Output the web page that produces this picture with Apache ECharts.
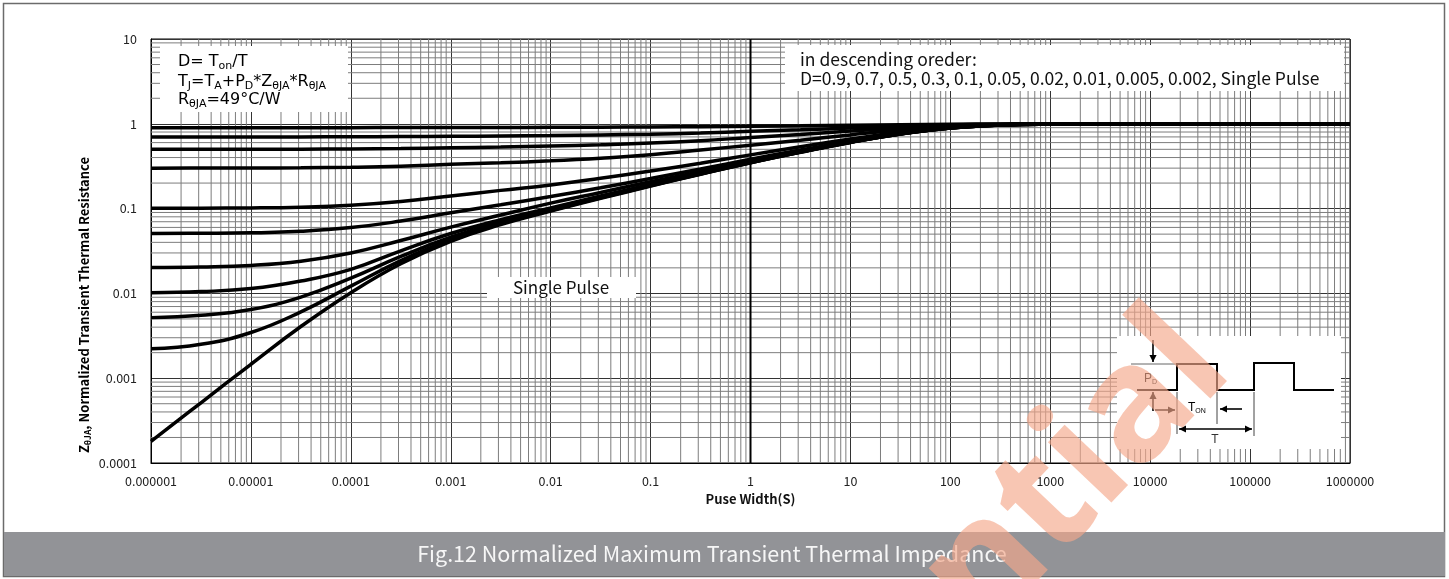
<!DOCTYPE html>
<html>
<head>
<meta charset="utf-8">
<title>Fig.12 Normalized Maximum Transient Thermal Impedance</title>
<script src="https://cdn.jsdelivr.net/npm/echarts@6/dist/echarts.min.js"></script>
<style>
  html, body { margin: 0; padding: 0; background: #ffffff; }
  #chart { width: 1449px; height: 579px; }
</style>
</head>
<body>
<div id="chart"></div>
<script>
// Pulse widths (s), half-decade steps, at which each curve is sampled
const pulseWidths = [1e-6, 3.162e-6, 1e-5, 3.162e-5, 1e-4, 3.162e-4, 1e-3, 3.162e-3, 0.01, 0.03162,
                     0.1, 0.3162, 1, 3.162, 10, 31.62, 100, 316.2, 1000, 3162, 10000, 1e5, 1e6];

// Normalized transient thermal resistance, one array per duty cycle
const zD090 = [0.900, 0.900, 0.9001, 0.9003, 0.901, 0.9025, 0.904, 0.906, 0.909, 0.913, 0.918, 0.925,
               0.935, 0.946, 0.960, 0.976, 0.989, 0.997, 0.999, 1, 1, 1, 1];
const zD070 = [0.700, 0.7001, 0.7003, 0.701, 0.703, 0.707, 0.712, 0.719, 0.728, 0.740, 0.755, 0.778,
               0.815, 0.850, 0.890, 0.933, 0.970, 0.990, 0.998, 1, 1, 1, 1];
const zD050 = [0.500, 0.5001, 0.5007, 0.502, 0.505, 0.511, 0.521, 0.532, 0.547, 0.566, 0.592, 0.632,
               0.690, 0.750, 0.820, 0.890, 0.950, 0.983, 0.996, 0.9995, 1, 1, 1];
const zD030 = [0.300, 0.3004, 0.301, 0.3028, 0.307, 0.316, 0.333, 0.347, 0.366, 0.393, 0.431, 0.490,
               0.560, 0.640, 0.740, 0.845, 0.930, 0.976, 0.995, 0.9993, 1, 1, 1];
const zD010 = [0.1010, 0.1012, 0.1018, 0.1040, 0.1095, 0.121, 0.141, 0.164, 0.190, 0.228, 0.277, 0.343,
               0.430, 0.535, 0.660, 0.795, 0.905, 0.969, 0.994, 0.999, 1, 1, 1];
const zD005 = [0.0510, 0.0512, 0.0518, 0.0540, 0.0597, 0.0713, 0.0891, 0.111, 0.139, 0.176, 0.226, 0.293,
               0.382, 0.490, 0.624, 0.772, 0.896, 0.968, 0.993, 0.999, 1, 1, 1];
const zD002 = [0.0202, 0.0205, 0.0214, 0.0240, 0.0300, 0.0420, 0.0604, 0.0840, 0.116, 0.155, 0.207, 0.272,
               0.362, 0.474, 0.612, 0.764, 0.893, 0.967, 0.993, 0.999, 1, 1, 1];
const zD001 = [0.0102, 0.0105, 0.0114, 0.0140, 0.0192, 0.0318, 0.0508, 0.0740, 0.102, 0.141, 0.192, 0.261,
               0.354, 0.467, 0.607, 0.761, 0.892, 0.966, 0.993, 0.999, 1, 1, 1];
const zD0005 = [0.00518, 0.00551, 0.00645, 0.00905, 0.0151, 0.0273, 0.0460, 0.0693, 0.0978, 0.136, 0.188, 0.258,
                0.350, 0.465, 0.605, 0.760, 0.892, 0.966, 0.993, 0.999, 1, 1, 1];
const zD0002 = [0.00222, 0.00251, 0.00346, 0.00606, 0.0122, 0.0244, 0.0431, 0.0665, 0.0951, 0.134, 0.186, 0.255,
                0.348, 0.463, 0.604, 0.760, 0.891, 0.966, 0.993, 0.999, 1, 1, 1];
const zSingle = [0.00018, 0.000513, 0.00146, 0.00407, 0.0102, 0.0224, 0.0412, 0.0646, 0.0933, 0.132, 0.184, 0.254,
                 0.347, 0.462, 0.603, 0.759, 0.891, 0.966, 0.993, 0.999, 1, 1, 1];

const curveNames = ['D=0.9', 'D=0.7', 'D=0.5', 'D=0.3', 'D=0.1', 'D=0.05', 'D=0.02', 'D=0.01',
                    'D=0.005', 'D=0.002', 'Single Pulse'];
const curveValues = [zD090, zD070, zD050, zD030, zD010, zD005, zD002, zD001, zD0005, zD0002, zSingle];

// Axis tick labels
const xTickLabels = ['0.000001', '0.00001', '0.0001', '0.001', '0.01', '0.1', '1', '10', '100',
                     '1000', '10000', '100000', '1000000'];
const yTickLabels = ['0.0001', '0.001', '0.01', '0.1', '1', '10'];

const chart = echarts.init(document.getElementById('chart'), null, { renderer: 'canvas' });

const LABEL_FONT = '"Noto Sans CJK SC", "Noto Sans", sans-serif';
const X_MIN = 1e-6, X_MAX = 1e6, Y_MIN = 1e-4, Y_MAX = 10;

// Minor log grid lines (2..9 inside every decade), drawn as broken polylines
const minorGridX = [];
for (let e = -6; e < 6; e++) {
  for (let m = 2; m <= 9; m++) {
    const v = m * Math.pow(10, e);
    minorGridX.push([v, Y_MIN], [v, Y_MAX], [v, '-']);
  }
}
const minorGridY = [];
for (let e = -4; e < 1; e++) {
  for (let m = 2; m <= 9; m++) {
    const v = m * Math.pow(10, e);
    minorGridY.push([X_MIN, v], [X_MAX, v], ['-', v]);
  }
}

function gridSeries(name, data, color, width, z) {
  return {
    name: name, type: 'line', z: z, data: data,
    showSymbol: false, symbol: 'none', connectNulls: false, smooth: false,
    lineStyle: { color: color, width: width }, silent: true,
    emphasis: { disabled: true }
  };
}

const curveSeries = curveNames.map((name, i) => ({
  name: name,
  type: 'line',
  z: 5,
  data: pulseWidths.map((t, k) => [t, curveValues[i][k]]),
  showSymbol: false,
  symbol: 'none',
  smooth: 0.45,
  lineStyle: { color: '#000000', width: 3.5 },
  emphasis: { disabled: true },
  silent: true
}));

// Inset: duty-cycle waveform sketch
function arrow(x1, y1, x2, y2, headEnd, headStart) {
  const els = [{
    type: 'line', z: 120,
    shape: { x1: x1, y1: y1, x2: x2, y2: y2 },
    style: { stroke: '#000', lineWidth: 1.6 }
  }];
  const ang = Math.atan2(y2 - y1, x2 - x1);
  const L = 7, W = 3.6;
  function head(px, py, a) {
    const bx = px - L * Math.cos(a), by = py - L * Math.sin(a);
    return {
      type: 'polygon', z: 121,
      shape: { points: [[px, py],
        [bx + W * Math.sin(a), by - W * Math.cos(a)],
        [bx - W * Math.sin(a), by + W * Math.cos(a)]] },
      style: { fill: '#000' }
    };
  }
  if (headEnd) els.push(head(x2, y2, ang));
  if (headStart) els.push(head(x1, y1, ang + Math.PI));
  return els;
}

const subRich = {
  n: { fontSize: 16, fontFamily: 'DejaVu Sans', color: '#111', lineHeight: 20 },
  s: { fontSize: 11, fontFamily: 'DejaVu Sans', color: '#111', lineHeight: 12, verticalAlign: 'bottom' }
};
const insetRich = {
  p: { fontSize: 12, fontFamily: 'Liberation Sans', color: '#333', lineHeight: 14 },
  q: { fontSize: 7, fontFamily: 'Liberation Sans', color: '#333', lineHeight: 8, verticalAlign: 'bottom' }
};

const graphics = [
  // outer frame and caption bar
  { type: 'rect', z: 90, shape: { x: 3.5, y: 3.5, width: 1441, height: 573 },
    style: { fill: null, stroke: '#6b6b6b', lineWidth: 1.5 } },
  { type: 'rect', z: 91, shape: { x: 4, y: 532, width: 1441, height: 44 },
    style: { fill: '#929397' } },
  { type: 'text', z: 92, x: 712, y: 554,
    style: { text: 'Fig.12 Normalized Maximum Transient Thermal Impedance',
             font: '21.5px ' + LABEL_FONT, fill: '#f6f6f6', align: 'center', verticalAlign: 'middle' } },

  // formula box (top left)
  { type: 'rect', z: 100, shape: { x: 160, y: 46, width: 188, height: 66 }, style: { fill: '#fff' } },
  { type: 'text', z: 101, x: 178, y: 62,
    style: { text: '{n|D= T}{s|on}{n|/T}', rich: subRich, align: 'left', verticalAlign: 'middle' } },
  { type: 'text', z: 101, x: 178, y: 82,
    style: { text: '{n|T}{s|J}{n|=T}{s|A}{n|+P}{s|D}{n|*Z}{s|θJA}{n|*R}{s|θJA}', rich: subRich,
             align: 'left', verticalAlign: 'middle' } },
  { type: 'text', z: 101, x: 178, y: 100,
    style: { text: '{n|R}{s|θJA}{n|=49°C/W}', rich: subRich, align: 'left', verticalAlign: 'middle' } },

  // ordering note (top right)
  { type: 'rect', z: 100, shape: { x: 785, y: 45, width: 559, height: 46 }, style: { fill: '#fff' } },
  { type: 'text', z: 101, x: 800, y: 59,
    style: { text: 'in descending oreder:', font: '17.5px ' + LABEL_FONT, fill: '#111',
             align: 'left', verticalAlign: 'middle' } },
  { type: 'text', z: 101, x: 800, y: 78,
    style: { text: 'D=0.9, 0.7, 0.5, 0.3, 0.1, 0.05, 0.02, 0.01, 0.005, 0.002, Single Pulse',
             font: '17.5px ' + LABEL_FONT, fill: '#111', align: 'left', verticalAlign: 'middle' } },

  // single pulse tag
  { type: 'rect', z: 100, shape: { x: 487, y: 277, width: 149, height: 21 }, style: { fill: '#fff' } },
  { type: 'text', z: 101, x: 561, y: 288,
    style: { text: 'Single Pulse', font: '17px ' + LABEL_FONT, fill: '#111',
             align: 'center', verticalAlign: 'middle' } },

  // y axis title
  { type: 'text', z: 101, x: 84, y: 305, rotation: Math.PI / 2,
    style: { text: '{b|Z}{bs|θJA}{b|, Normalized Transient Thermal Resistance}',
             rich: {
               b: { fontSize: 13, fontWeight: 'bold', fontFamily: LABEL_FONT, color: '#111', lineHeight: 16 },
               bs: { fontSize: 8.5, fontWeight: 'bold', fontFamily: LABEL_FONT, color: '#111', lineHeight: 9, verticalAlign: 'bottom' }
             },
             align: 'center', verticalAlign: 'middle' } },

  // inset panel
  { type: 'rect', z: 110, shape: { x: 1117, y: 336, width: 224, height: 113 }, style: { fill: '#fff' } },
  { type: 'polyline', z: 120,
    shape: { points: [[1137, 390], [1177, 390], [1177, 364], [1217, 364], [1217, 390], [1254, 390],
                      [1254, 363], [1294, 363], [1294, 390], [1334, 390]] },
    style: { fill: null, stroke: '#000', lineWidth: 2 } },
  { type: 'line', z: 119, shape: { x1: 1131, y1: 364, x2: 1177, y2: 364 }, style: { stroke: '#666', lineWidth: 1 } },
  { type: 'line', z: 119, shape: { x1: 1177, y1: 392, x2: 1177, y2: 434 }, style: { stroke: '#444', lineWidth: 1 } },
  { type: 'line', z: 119, shape: { x1: 1217, y1: 392, x2: 1217, y2: 424 }, style: { stroke: '#444', lineWidth: 1 } },
  { type: 'line', z: 119, shape: { x1: 1254, y1: 392, x2: 1254, y2: 436 }, style: { stroke: '#444', lineWidth: 1 } },
  ...arrow(1153, 340, 1153, 362, true, false),
  ...arrow(1153, 411, 1153, 392, true, false),
  ...arrow(1155, 410, 1175, 410, true, false),
  ...arrow(1242, 409, 1220, 409, true, false),
  ...arrow(1179, 429, 1252, 429, true, true),
  { type: 'text', z: 121, x: 1144, y: 379,
    style: { text: '{p|P}{q|D}', align: 'left', verticalAlign: 'middle', rich: insetRich } },
  { type: 'text', z: 121, x: 1188, y: 408,
    style: { text: '{p|T}{q|ON}', align: 'left', verticalAlign: 'middle', rich: insetRich } },
  { type: 'text', z: 121, x: 1215, y: 440,
    style: { text: 'T', font: '12px "Liberation Sans"', fill: '#333', align: 'center', verticalAlign: 'middle' } },

  // watermark
  { type: 'text', z: 200, x: 1260, y: 396, rotation: 46.5 * Math.PI / 180, silent: true,
    style: { text: 'Confidential', font: 'bold 160px "Noto Sans"', fill: '#f5a88a', opacity: 0.65,
             align: 'right', verticalAlign: 'bottom' } }
];

const option = {
  animation: false,
  backgroundColor: '#ffffff',
  grid: { left: 151, right: 99, top: 39, bottom: 116, show: true, borderColor: '#000', borderWidth: 1,
          backgroundColor: 'transparent' },
  xAxis: {
    type: 'log', logBase: 10, min: X_MIN, max: X_MAX, interval: 1,
    name: 'Puse Width(S)', nameLocation: 'middle', nameGap: 29,
    nameTextStyle: { fontFamily: LABEL_FONT, fontWeight: 'bold', fontSize: 13, color: '#111' },
    axisLine: { show: true, lineStyle: { color: '#000', width: 1 } },
    axisTick: { show: false },
    axisLabel: { margin: 12, fontFamily: LABEL_FONT, fontSize: 12.5, color: '#222',
                 formatter: v => xTickLabels[Math.round(Math.log10(v)) + 6] },
    splitLine: { show: true, lineStyle: { color: '#333', width: 1 } }
  },
  yAxis: {
    type: 'log', logBase: 10, min: Y_MIN, max: Y_MAX, interval: 1,
    axisLine: { show: true, lineStyle: { color: '#000', width: 1 } },
    axisTick: { show: false },
    axisLabel: { margin: 14, fontFamily: LABEL_FONT, fontSize: 12.5, color: '#222',
                 formatter: v => yTickLabels[Math.round(Math.log10(v)) + 4] },
    splitLine: { show: true, lineStyle: { color: '#333', width: 1 } }
  },
  series: [
    gridSeries('grid-minor-x', minorGridX, '#7d7d7d', 1, 1),
    gridSeries('grid-minor-y', minorGridY, '#7d7d7d', 1, 1),
    gridSeries('grid-unit', [[1, Y_MIN], [1, Y_MAX]], '#000000', 2, 2)
  ].concat(curveSeries),
  graphic: { elements: graphics }
};

chart.setOption(option);
</script>
</body>
</html>
